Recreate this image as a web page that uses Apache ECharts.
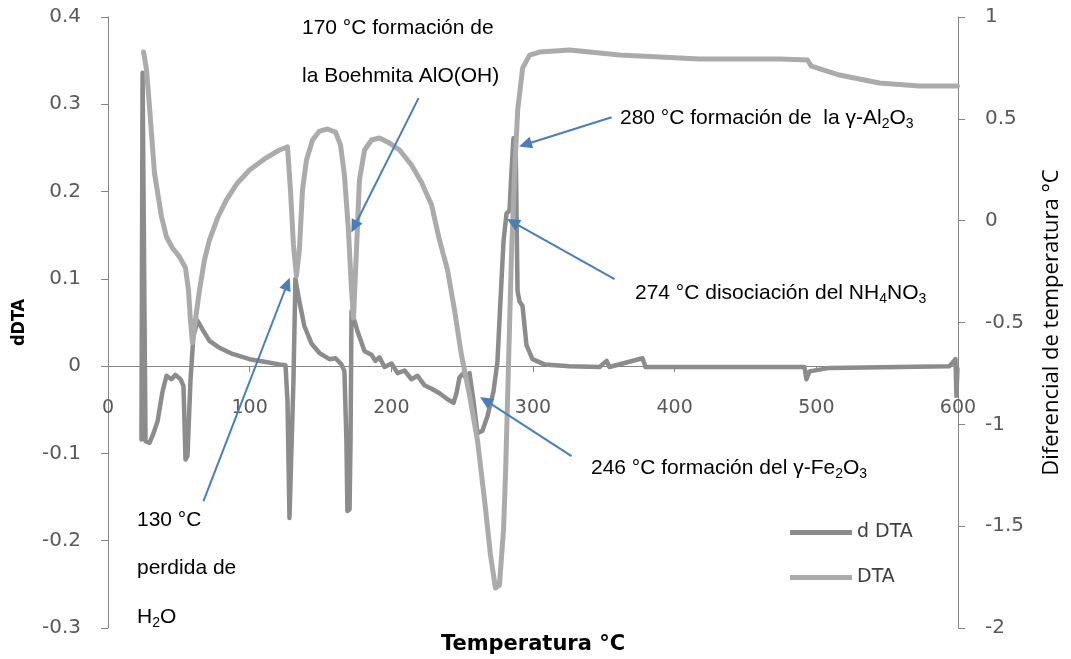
<!DOCTYPE html>
<html>
<head>
<meta charset="utf-8">
<title>dDTA / DTA</title>
<script src="https://cdn.jsdelivr.net/npm/echarts@6/dist/echarts.min.js"></script>
<style>
  html, body { margin: 0; padding: 0; background: #ffffff; }
  #chart { width: 1071px; height: 659px; }
</style>
</head>
<body>
<div id="chart"></div>
<script>
// Derivative of the DTA signal (left axis)
const ddtaTemperature = [
  23.6, 24.4, 26.5, 29.3, 32.1, 35.0, 38.5, 41.3, 44.8, 47.6, 51.2, 53.3, 54.7, 56.1, 58.2,
  60.3, 63.2, 66.7, 71.6, 78.7, 87.9, 99.9, 110.5, 121.0, 125.3, 126.7, 128.1, 129.5, 130.9,
  132.3, 135.1, 138.6, 143.6, 149.3, 156.3, 160.6, 164.8, 166.9, 168.3, 169.0, 170.5, 171.2,
  171.9, 176.1, 181.1, 186.0, 188.8, 191.6, 195.2, 200.1, 204.4, 209.3, 214.2, 218.5, 223.4,
  228.4, 234.0, 239.7, 243.9, 246.0, 248.1, 251.0, 253.1, 255.2, 258.0, 260.8, 264.3, 267.9,
  272.1, 274.9, 277.0, 279.2, 281.3, 283.4, 284.8, 286.2, 287.7, 289.1, 290.5, 292.6, 295.4,
  299.6, 308.1, 325.8, 347.0, 352.0, 354.0, 377.3, 379.4, 417.5, 460.0, 491.6, 493.0, 495.2,
  509.3, 558.7, 594.0, 598.2, 598.9, 599.6
];
const ddtaValues = [
  -0.084, 0.336, -0.086, -0.088, -0.077, -0.063, -0.029, -0.011, -0.015, -0.010, -0.015, -0.023, -0.107, -0.103, -0.017,
  0.034, 0.052, 0.042, 0.029, 0.021, 0.014, 0.008, 0.005, 0.002, 0.001, -0.040, -0.174, -0.172, -0.017,
  0.100, 0.074, 0.046, 0.026, 0.015, 0.008, 0.009, 0.002, -0.006, -0.086, -0.166, -0.164, -0.086,
  0.063, 0.040, 0.017, 0.013, 0.006, 0.010, -0.001, 0.003, -0.008, -0.005, -0.015, -0.011, -0.022,
  -0.026, -0.031, -0.038, -0.042, -0.031, -0.013, -0.008, -0.015, -0.008, -0.040, -0.077, -0.074, -0.057,
  -0.029, 0.005, 0.074, 0.143, 0.175, 0.178, 0.223, 0.261, 0.258, 0.086, 0.074, 0.069, 0.024,
  0.008, 0.002, 0.000, -0.001, 0.006, -0.001, 0.009, -0.001, -0.001, -0.001, -0.001, -0.015, -0.006,
  -0.002, -0.001, 0.000, 0.008, -0.034, -0.003
];

// Temperature difference (right axis)
const dtaTemperature = [
  25.1, 27.2, 29.3, 32.8, 37.8, 41.3, 45.5, 50.5, 54.7, 56.8, 58.2, 59.6, 61.7, 64.6, 68.1,
  71.6, 77.3, 83.6, 91.4, 99.9, 110.5, 121.0, 126.7, 128.8, 130.9, 133.0, 135.1, 137.3, 140.1,
  144.4, 149.3, 154.9, 160.6, 164.1, 166.9, 169.7, 171.9, 173.3, 175.4, 177.5, 181.1, 186.0,
  191.6, 198.7, 205.8, 214.2, 221.3, 228.4, 234.0, 239.7, 244.6, 249.5, 255.2, 260.8, 265.8,
  270.0, 273.5, 276.3, 279.2, 280.7, 282.8, 284.9, 287.1, 289.2, 292.7, 297.6, 304.6, 325.8,
  361.1, 417.5, 474.0, 493.7, 496.5, 516.3, 544.5, 572.7, 599.6
];
const dtaValues = [
  0.828, 0.740, 0.558, 0.234, 0.018, -0.080, -0.134, -0.178, -0.232, -0.340, -0.488, -0.600, -0.488, -0.340, -0.193,
  -0.095, 0.013, 0.102, 0.185, 0.249, 0.303, 0.347, 0.362, 0.151, -0.119, -0.272, -0.144, 0.151, 0.298,
  0.396, 0.440, 0.450, 0.435, 0.372, 0.224, -0.046, -0.341, -0.478, -0.144, 0.200, 0.347, 0.396,
  0.406, 0.381, 0.347, 0.273, 0.189, 0.077, -0.096, -0.243, -0.439, -0.660, -0.857, -1.078, -1.372,
  -1.642, -1.804, -1.789, -1.519, -1.224, -0.684, -0.144, 0.249, 0.543, 0.750, 0.813, 0.828, 0.838,
  0.813, 0.794, 0.794, 0.789, 0.759, 0.715, 0.676, 0.661, 0.661
];

const seriesNames = ['d DTA', 'DTA'];

// Axis ranges
const tempRange = { min: 0, max: 600, interval: 100 };
const ddtaRange = { min: -0.3, max: 0.4, interval: 0.1 };
const dtaRange = { min: -2, max: 1, interval: 0.5 };

// Annotation arrows in (temperature, dDTA) coordinates: [from, to]
const annotationArrows = [
  [[67.4, -0.1546], [126.6, 0.0944]],
  [[219.2, 0.307], [173.8, 0.1597]],
  [[355.5, 0.2852], [294.5, 0.254]],
  [[357.6, 0.0997], [285.7, 0.165]],
  [[327.2, -0.1031], [266.5, -0.0393]]
];

const pair = (xs, ys) => xs.map((x, i) => [x, ys[i]]);

const W = 1071, H = 659;
const grid = { left: 108, right: 113, top: 17, bottom: 31 };
const plotHeight = H - grid.top - grid.bottom;
// lift the temperature axis up to dDTA = 0
const zeroLift = plotHeight * (0 - ddtaRange.min) / (ddtaRange.max - ddtaRange.min);

const axisFont = "'DejaVu Sans', Verdana, sans-serif";
const noteFont = "'Liberation Sans', Arial, sans-serif";
const axisGrey = '#868686';
const labelGrey = '#595959';

const noteRich = {
  sub: { fontSize: 14, fontFamily: noteFont, fill: '#000', verticalAlign: 'bottom', lineHeight: 26 }
};
function note(text, x, y) {
  return {
    type: 'text',
    x: x, y: y,
    silent: true,
    style: {
      text: text,
      fill: '#000000',
      fontSize: 21,
      fontFamily: noteFont,
      verticalAlign: 'middle',
      align: 'left',
      lineHeight: 26,
      rich: noteRich
    }
  };
}

const chart = echarts.init(document.getElementById('chart'), null, { renderer: 'canvas' });

chart.setOption({
  animation: false,
  backgroundColor: '#ffffff',
  grid: {
    left: grid.left, right: grid.right, top: grid.top, bottom: grid.bottom,
    containLabel: false,
    outerBoundsMode: 'none'
  },
  legend: {
    data: seriesNames.map(n => ({ name: n, icon: 'rect' })),
    orient: 'vertical',
    left: 790,
    top: 521,
    padding: 0,
    itemWidth: 62,
    itemHeight: 5,
    itemGap: 22,
    textStyle: { color: '#404040', fontSize: 19, fontFamily: axisFont, lineHeight: 23 },
    selectedMode: false
  },
  xAxis: {
    type: 'value',
    min: tempRange.min,
    max: tempRange.max,
    interval: tempRange.interval,
    position: 'bottom',
    offset: -zeroLift,
    axisLine: { onZero: false, lineStyle: { color: axisGrey, width: 1 } },
    axisTick: { show: true, inside: false, length: 6, lineStyle: { color: axisGrey } },
    axisLabel: { color: labelGrey, fontSize: 19, fontFamily: axisFont, margin: 32 },
    splitLine: { show: false }
  },
  yAxis: [
    {
      type: 'value',
      min: ddtaRange.min,
      max: ddtaRange.max,
      interval: ddtaRange.interval,
      position: 'left',
      name: 'dDTA',
      nameLocation: 'middle',
      nameRotate: 90,
      nameGap: 80,
      nameTextStyle: {
        color: '#000000', fontSize: 18, fontWeight: 'bold',
        fontFamily: "'DejaVu Sans Condensed', 'Liberation Sans Narrow', 'Liberation Sans', sans-serif"
      },
      axisLine: { show: true, lineStyle: { color: axisGrey, width: 1 } },
      axisTick: { show: true, inside: false, length: 7, lineStyle: { color: axisGrey } },
      axisLabel: { color: labelGrey, fontSize: 20, fontFamily: axisFont, margin: 27 },
      splitLine: { show: false }
    },
    {
      type: 'value',
      min: dtaRange.min,
      max: dtaRange.max,
      interval: dtaRange.interval,
      position: 'right',
      name: 'Diferencial de temperatura °C',
      nameLocation: 'middle',
      nameRotate: 90,
      nameGap: 83,
      nameTextStyle: { color: '#000000', fontSize: 22, fontFamily: "'Open Sans', 'DejaVu Sans', sans-serif" },
      axisLine: { show: true, lineStyle: { color: axisGrey, width: 1 } },
      axisTick: { show: true, inside: false, length: 7, lineStyle: { color: axisGrey } },
      axisLabel: { color: labelGrey, fontSize: 20, fontFamily: axisFont, margin: 27 },
      splitLine: { show: false }
    }
  ],
  graphic: [
    {
      type: 'text',
      x: (grid.left + W - grid.right) / 2, y: 645,
      silent: true,
      style: {
        text: 'Temperatura °C', fill: '#000000', fontSize: 21, fontWeight: 'bold',
        fontFamily: axisFont, align: 'center', verticalAlign: 'middle'
      }
    },
    note('170 °C formación de', 302, 28),
    note('la Boehmita AlO(OH)', 302, 76),
    note('280 °C formación de  la γ-Al{sub|2}O{sub|3}', 620, 118),
    note('274 °C disociación del NH{sub|4}NO{sub|3}', 635, 293),
    note('246 °C formación del γ-Fe{sub|2}O{sub|3}', 591, 468),
    note('130 °C', 137, 520),
    note('perdida de', 137, 568),
    note('H{sub|2}O', 137, 617)
  ],
  series: [
    {
      name: seriesNames[0],
      type: 'line',
      yAxisIndex: 0,
      data: pair(ddtaTemperature, ddtaValues),
      symbol: 'none',
      smooth: false,
      z: 2,
      lineStyle: { color: '#8C8C8C', width: 4.5, join: 'round', cap: 'round' },
      itemStyle: { color: '#8C8C8C' },
      markLine: {
        silent: true,
        symbol: ['none', 'triangle'],
        symbolSize: [12, 13],
        label: { show: false },
        lineStyle: { color: '#4A7EBB', width: 2, type: 'solid' },
        emphasis: { disabled: true },
        data: annotationArrows.map(a => [{ coord: a[0] }, { coord: a[1] }])
      }
    },
    {
      name: seriesNames[1],
      type: 'line',
      yAxisIndex: 1,
      data: pair(dtaTemperature, dtaValues),
      symbol: 'none',
      smooth: false,
      z: 3,
      lineStyle: { color: '#ABABAB', width: 5, join: 'round', cap: 'round' },
      itemStyle: { color: '#ABABAB' }
    }
  ]
});
</script>
</body>
</html>
